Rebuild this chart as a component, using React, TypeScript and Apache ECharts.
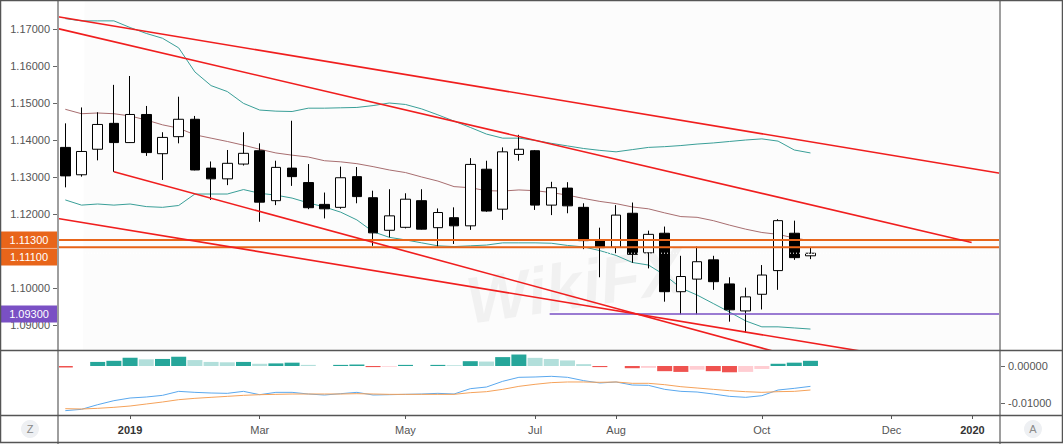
import React, { useEffect, useRef } from "react";
import * as echarts from "echarts";

// ---- categories (weekly bars, Monday dates) ----
const weekDates = [
  "2018-12-10", "2018-12-17", "2018-12-24", "2018-12-31",
  "2019-01-07", "2019-01-14", "2019-01-21", "2019-01-28",
  "2019-02-04", "2019-02-11", "2019-02-18", "2019-02-25",
  "2019-03-04", "2019-03-11", "2019-03-18", "2019-03-25",
  "2019-04-01", "2019-04-08", "2019-04-15", "2019-04-22", "2019-04-29",
  "2019-05-06", "2019-05-13", "2019-05-20", "2019-05-27",
  "2019-06-03", "2019-06-10", "2019-06-17", "2019-06-24",
  "2019-07-01", "2019-07-08", "2019-07-15", "2019-07-22", "2019-07-29",
  "2019-08-05", "2019-08-12", "2019-08-19", "2019-08-26",
  "2019-09-02", "2019-09-09", "2019-09-16", "2019-09-23", "2019-09-30",
  "2019-10-07", "2019-10-14", "2019-10-21", "2019-10-28",
];

// ---- OHLC ----
const openP = [1.1380,1.1306,1.1375,1.1445,1.1393,1.1469,1.1363,1.1409,1.1456,1.1324,1.1295,1.1335,1.1371,1.1236,1.1324,1.1285,1.1226,1.1218,1.1301,1.1244,1.1156,1.1164,1.1236,1.1163,1.1190,1.1168,1.1321,1.1213,1.1361,1.1371,1.1224,1.1270,1.1218,1.1128,1.1110,1.1202,1.1095,1.1148,1.0990,1.1024,1.1076,1.1011,1.0938,1.0983,1.1047,1.1148,1.1087];
const highP = [1.1445,1.1488,1.1475,1.1549,1.1573,1.1492,1.1421,1.1517,1.1465,1.1342,1.1373,1.1421,1.1391,1.1344,1.1452,1.1335,1.1258,1.1328,1.1327,1.1263,1.1267,1.1256,1.1267,1.1215,1.1218,1.1351,1.1344,1.1380,1.1414,1.1373,1.1287,1.1286,1.1229,1.1163,1.1224,1.1231,1.1155,1.1166,1.1087,1.1112,1.1087,1.1029,1.1001,1.1062,1.1186,1.1182,1.1110];
const lowP = [1.1272,1.1301,1.1345,1.1314,1.1392,1.1357,1.1292,1.1391,1.1318,1.1238,1.1278,1.1331,1.1179,1.1224,1.1276,1.1213,1.1188,1.1214,1.1229,1.1114,1.1137,1.1161,1.1158,1.1112,1.1119,1.1157,1.1206,1.1184,1.1344,1.1211,1.1197,1.1202,1.1105,1.1029,1.1094,1.1068,1.1053,1.0963,1.0929,1.0929,1.0995,1.0909,1.0879,1.0942,1.0995,1.1076,1.1078];
const closeP = [1.1303,1.1369,1.1442,1.1393,1.1469,1.1366,1.1407,1.1456,1.1319,1.1295,1.1337,1.1364,1.1232,1.1326,1.1301,1.1217,1.1214,1.1298,1.1247,1.1149,1.1195,1.1240,1.1159,1.1204,1.1168,1.1334,1.1208,1.1368,1.1375,1.1224,1.1271,1.1222,1.1128,1.1109,1.1197,1.1091,1.1145,1.0990,1.1031,1.1071,1.1017,1.0941,1.0976,1.1035,1.1182,1.1082,1.1094];

// ---- Bollinger bands ----
const bbUpper = [1.1728,1.1722,1.1722,1.1722,1.1704,1.1688,1.1675,1.1649,1.1584,1.1547,1.1531,1.1499,1.1481,1.1478,1.1477,1.1486,1.1486,1.1487,1.1488,1.1493,1.1500,1.1496,1.1484,1.1468,1.1451,1.1434,1.1416,1.1405,1.1405,1.1399,1.1391,1.1384,1.1377,1.1372,1.1368,1.1374,1.1380,1.1382,1.1385,1.1389,1.1392,1.1396,1.1400,1.1403,1.1397,1.1373,1.1365];
const bbMiddle = [1.1483,1.1471,1.1473,1.1471,1.1465,1.1454,1.1441,1.1432,1.1414,1.1405,1.1396,1.1386,1.1375,1.1365,1.1359,1.1354,1.1344,1.1341,1.1336,1.1328,1.1319,1.1312,1.1300,1.1289,1.1274,1.1271,1.1263,1.1262,1.1265,1.1263,1.1258,1.1251,1.1242,1.1234,1.1228,1.1219,1.1214,1.1203,1.1193,1.1191,1.1182,1.1170,1.1159,1.1150,1.1145,1.1135,1.1128];
const bbLower = [1.1238,1.1224,1.1227,1.1224,1.1227,1.1220,1.1218,1.1223,1.1254,1.1254,1.1254,1.1266,1.1256,1.1251,1.1243,1.1230,1.1219,1.1205,1.1184,1.1152,1.1137,1.1130,1.1122,1.1114,1.1112,1.1114,1.1116,1.1122,1.1122,1.1122,1.1121,1.1115,1.1111,1.1101,1.1088,1.1069,1.1062,1.1035,1.1000,1.0981,1.0958,1.0935,1.0911,1.0895,1.0895,1.0892,1.0889];

// ---- MACD ----
const macdHist = [-0.0004,0,0.0011,0.0014,0.0022,0.0018,0.0019,0.0025,0.0016,0.0011,0.0010,0.0011,0.0006,0.0007,0.0009,0.0003,0,0.0003,0.0004,-0.0003,-0.0002,0.0003,0,0.0003,0.0002,0.0013,0.0012,0.0024,0.0031,0.0022,0.0019,0.0015,0.0005,-0.0003,0,-0.0006,-0.0005,-0.0014,-0.0016,-0.0010,-0.0014,-0.0017,-0.0016,-0.0008,0.0006,0.0009,0.0014];
const macdLine = [-0.01207,-0.01171,-0.01045,-0.00937,-0.00865,-0.00838,-0.00793,-0.00685,-0.00712,-0.00730,-0.00739,-0.00685,-0.00775,-0.00712,-0.00712,-0.00757,-0.00784,-0.00748,-0.00712,-0.00784,-0.00775,-0.00766,-0.00757,-0.00739,-0.00757,-0.00613,-0.00568,-0.00414,-0.00306,-0.00297,-0.00279,-0.00306,-0.00396,-0.00459,-0.00432,-0.00514,-0.00523,-0.00631,-0.00685,-0.00703,-0.00757,-0.00820,-0.00847,-0.00802,-0.00649,-0.00604,-0.00550];
const signalLine = [-0.01153,-0.01162,-0.01144,-0.01117,-0.01081,-0.01027,-0.00973,-0.00910,-0.00874,-0.00847,-0.00820,-0.00793,-0.00775,-0.00766,-0.00757,-0.00757,-0.00757,-0.00757,-0.00748,-0.00757,-0.00766,-0.00766,-0.00766,-0.00766,-0.00766,-0.00721,-0.00694,-0.00631,-0.00550,-0.00495,-0.00450,-0.00432,-0.00432,-0.00441,-0.00432,-0.00468,-0.00468,-0.00505,-0.00559,-0.00595,-0.00631,-0.00667,-0.00694,-0.00712,-0.00694,-0.00685,-0.00649];

// ---- ticks ----
const xTickIdx = [4, 12, 21, 29, 34, 43, 51, 56];
const xTickLabels = ["2019", "Mar", "May", "Jul", "Aug", "Oct", "Dec", "2020"];
// 1.11000 is hidden behind the level labels in the reference
const priceTicks = [1.09, 1.10, 1.12, 1.13, 1.14, 1.15, 1.16, 1.17];
const macdTicks = [0, -0.01];

// ---- drawings (bar index, price) ----
const trendLines = [
  [[-0.45, 1.1733], [57.7, 1.1310]],
  [[-0.45, 1.1701], [55.95, 1.1123]],
  [[3, 1.1314], [46, 1.0802]],
  [[-0.45, 1.1188], [50, 1.0823]],
];
const orangeLevels = [1.113, 1.111];
const purpleLevel = 1.093;
const purpleStart = 29.9;

const X_MIN = -0.45;
const X_MAX = 57.7;
const Y_MIN = 1.08324;
const Y_MAX = 1.17784;
const M_MIN = -0.01324;
const M_MAX = 0.00432;

const FONT = "'Liberation Sans', Arial, sans-serif";
const ORANGE = "#e8651a";
const PURPLE = "#7a50c4";

function histColor(i: number): string {
  const v = macdHist[i];
  const prev = i > 0 ? macdHist[i - 1] : 0;
  if (v >= 0) return v >= prev ? "#26a69a" : "#b2dfdb";
  return v <= prev ? "#ef5350" : "#ffcdd2";
}

function buildOption() {
  const candleData = weekDates.map((_, i) => [i, openP[i], closeP[i], lowP[i], highP[i]]);
  const pts = (arr: number[]) => arr.map((v, i) => [i, v]);
  const lastClose = closeP[closeP.length - 1];

  const series: any[] = [
    {
      name: "bbBase", type: "line", xAxisIndex: 0, yAxisIndex: 0, stack: "bb",
      data: pts(bbLower), symbol: "none", lineStyle: { opacity: 0 }, silent: true, z: 1,
    },
    {
      name: "bbFill", type: "line", xAxisIndex: 0, yAxisIndex: 0, stack: "bb",
      data: bbUpper.map((v, i) => [i, v - bbLower[i]]), symbol: "none",
      lineStyle: { opacity: 0 }, areaStyle: { color: "rgba(0,0,0,0.018)" }, silent: true, z: 1,
    },
    { name: "upper", type: "line", data: pts(bbUpper), symbol: "none", lineStyle: { color: "#3a9f98", width: 1 }, z: 2 },
    { name: "middle", type: "line", data: pts(bbMiddle), symbol: "none", lineStyle: { color: "#a86e70", width: 1 }, z: 2 },
    { name: "lower", type: "line", data: pts(bbLower), symbol: "none", lineStyle: { color: "#3a9f98", width: 1 }, z: 2 },
    {
      name: "EURUSD", type: "candlestick", xAxisIndex: 0, yAxisIndex: 0, barWidth: 10, data: candleData,
      itemStyle: { color: "#ffffff", color0: "#000000", borderColor: "#000000", borderColor0: "#000000", borderWidth: 1 },
      z: 3,
    },
    {
      name: "lastPrice", type: "line", data: [[X_MIN, lastClose], [X_MAX, lastClose]], symbol: "none",
      lineStyle: { color: "#ffffff", width: 1, type: [1, 2] }, z: 4, silent: true,
    },
    ...trendLines.map((seg, k) => ({
      name: "trend" + k, type: "line", data: seg, symbol: "none",
      lineStyle: { color: "#f01e1e", width: 1.6 }, z: 6, silent: true,
    })),
    ...orangeLevels.map((lv, k) => ({
      name: "level" + k, type: "line", data: [[X_MIN, lv], [X_MAX, lv]], symbol: "none",
      lineStyle: { color: ORANGE, width: 2 }, z: 5, silent: true,
    })),
    {
      name: "purple", type: "line", data: [[purpleStart, purpleLevel], [X_MAX, purpleLevel]], symbol: "none",
      lineStyle: { color: PURPLE, width: 1.5 }, z: 5, silent: true,
    },
    {
      name: "hist", type: "bar", xAxisIndex: 1, yAxisIndex: 1, barWidth: 15,
      data: macdHist.map((v, i) => ({ value: [i, v], itemStyle: { color: histColor(i) } })),
      z: 2,
    },
    {
      name: "macd", type: "line", xAxisIndex: 1, yAxisIndex: 1, data: pts(macdLine), symbol: "none",
      lineStyle: { color: "#5aa8ee", width: 1 }, z: 3,
    },
    {
      name: "signal", type: "line", xAxisIndex: 1, yAxisIndex: 1, data: pts(signalLine), symbol: "none",
      lineStyle: { color: "#f5a25a", width: 1 }, z: 3,
    },
  ];

  return {
    animation: false,
    backgroundColor: "#ffffff",
    grid: [
      { left: 58, right: 63, top: 0, height: 350 },
      { left: 58, right: 63, top: 350, height: 65 },
    ],
    xAxis: [
      { type: "value", gridIndex: 0, min: X_MIN, max: X_MAX, show: false, splitLine: { show: false }, axisLine: { onZero: false } },
      {
        type: "value", gridIndex: 1, min: X_MIN, max: X_MAX, position: "bottom",
        axisLine: { show: false, onZero: false }, splitLine: { show: false },
        axisTick: { show: true, customValues: xTickIdx, length: 4, lineStyle: { color: "#555" } },
        axisLabel: {
          customValues: xTickIdx, margin: 9, fontFamily: FONT, fontSize: 11, color: "#555",
          formatter: (v: number) => {
            const k = xTickIdx.indexOf(Math.round(v));
            if (k < 0) return "";
            const t = xTickLabels[k];
            return /^\d{4}$/.test(t) ? "{y|" + t + "}" : t;
          },
          rich: { y: { fontFamily: FONT, fontSize: 11, fontWeight: "bold", color: "#333" } },
        },
      },
    ],
    yAxis: [
      {
        type: "value", gridIndex: 0, position: "left", min: Y_MIN, max: Y_MAX,
        splitLine: { show: false }, axisLine: { show: false, onZero: false },
        axisTick: { show: true, customValues: priceTicks, length: 5, lineStyle: { color: "#666" } },
        axisLabel: {
          customValues: priceTicks, margin: 8, fontFamily: FONT, fontSize: 11, color: "#555",
          formatter: (v: number) => v.toFixed(5),
        },
      },
      {
        type: "value", gridIndex: 1, position: "right", min: M_MIN, max: M_MAX,
        splitLine: { show: false }, axisLine: { show: false, onZero: false },
        axisTick: { show: true, customValues: macdTicks, length: 5, lineStyle: { color: "#666" } },
        axisLabel: {
          customValues: macdTicks, margin: 8, fontFamily: FONT, fontSize: 11, color: "#555",
          formatter: (v: number) => v.toFixed(5),
        },
      },
    ],
    series,
  };
}

export default function App() {
  const ref = useRef<HTMLDivElement>(null);

  useEffect(() => {
    if (!ref.current) return;
    const chart = echarts.init(ref.current, undefined, { renderer: "svg" });
    chart.setOption(buildOption() as any);

    const py = (v: number) => chart.convertToPixel({ yAxisIndex: 0 } as any, v) as unknown as number;
    const yA = py(orangeLevels[0]);
    const yB = yA + 17;
    const yP = py(purpleLevel);
    const W = 1063;
    const H = 444;
    const labelText = (txt: string, y: number) => ({
      type: "text", x: 29, y, z: 101,
      style: {
        text: txt, fill: "#ffffff", font: "11px " + FONT,
        align: "center", verticalAlign: "middle", textAlign: "center", textVerticalAlign: "middle",
      },
    });

    chart.setOption({
      graphic: [
        {
          type: "text", x: 575, y: 285, rotation: 0.15, z: 0, silent: true,
          style: {
            text: "WikiFX", fill: "rgba(0,0,0,0.045)", font: "italic bold 66px " + FONT,
            align: "center", verticalAlign: "middle", textAlign: "center", textVerticalAlign: "middle",
          },
        },
        { type: "rect", z: 100, shape: { x: 0, y: yA - 8.5, width: 57, height: 17 }, style: { fill: ORANGE } },
        { type: "rect", z: 100, shape: { x: 0, y: yB - 8.5, width: 57, height: 17 }, style: { fill: ORANGE } },
        { type: "line", z: 100, shape: { x1: 0, y1: yA + 8.5, x2: 57, y2: yA + 8.5 }, style: { stroke: "rgba(255,255,255,0.35)", lineWidth: 1 } },
        labelText(orangeLevels[0].toFixed(5), yA),
        labelText(orangeLevels[1].toFixed(5), yB),
        { type: "rect", z: 100, shape: { x: 0, y: yP - 8.5, width: 57, height: 17 }, style: { fill: PURPLE } },
        labelText(purpleLevel.toFixed(5), yP),
        // pane separators and frame
        { type: "line", z: 110, shape: { x1: 58, y1: 0, x2: 58, y2: H }, style: { stroke: "#9e9e9e", lineWidth: 2 } },
        { type: "line", z: 110, shape: { x1: 1000, y1: 0, x2: 1000, y2: H }, style: { stroke: "#9e9e9e", lineWidth: 2 } },
        { type: "line", z: 110, shape: { x1: 0, y1: 350.5, x2: W, y2: 350.5 }, style: { stroke: "#555555", lineWidth: 1.5 } },
        { type: "line", z: 110, shape: { x1: 0, y1: 415.5, x2: W, y2: 415.5 }, style: { stroke: "#555555", lineWidth: 1.5 } },
        { type: "rect", z: 110, shape: { x: 0.5, y: 0.5, width: W - 1, height: H - 2 }, style: { fill: "none", stroke: "#555555", lineWidth: 1.5 } },
        // corner buttons
        { type: "circle", z: 111, shape: { cx: 30, cy: 429, r: 9 }, style: { fill: "#eef0f3" } },
        {
          type: "text", z: 112, x: 30, y: 429,
          style: { text: "Z", fill: "#8a8a8a", font: "11px " + FONT, align: "center", verticalAlign: "middle", textAlign: "center", textVerticalAlign: "middle" },
        },
        { type: "circle", z: 111, shape: { cx: 1033, cy: 429, r: 9 }, style: { fill: "#eef0f3" } },
        {
          type: "text", z: 112, x: 1033, y: 429,
          style: { text: "A", fill: "#8a8a8a", font: "11px " + FONT, align: "center", verticalAlign: "middle", textAlign: "center", textVerticalAlign: "middle" },
        },
      ],
    } as any);

    return () => chart.dispose();
  }, []);

  return (
    <div
      ref={ref}
      style={{ position: "fixed", left: 0, top: 0, width: 1063, height: 444, background: "#ffffff" }}
    />
  );
}
